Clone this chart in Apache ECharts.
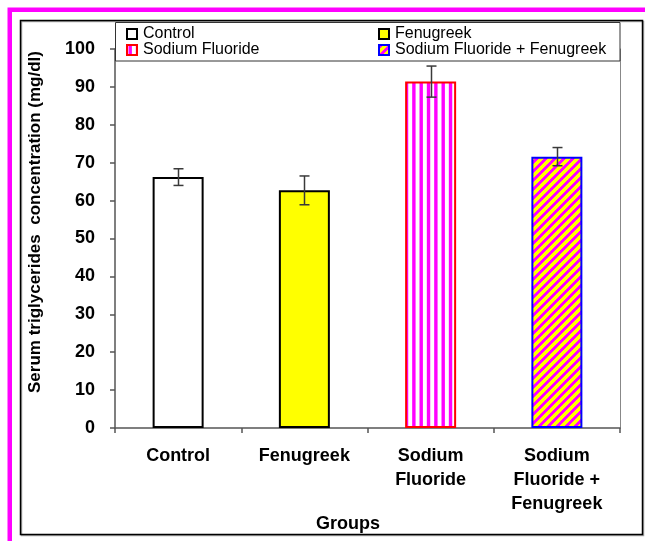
<!DOCTYPE html>
<html>
<head>
<meta charset="utf-8">
<script src="https://cdn.jsdelivr.net/npm/echarts@6/dist/echarts.min.js"></script>
<style>
html,body{margin:0;padding:0;background:#fff;}
#chart{width:645px;height:541px;}
</style>
</head>
<body>
<div id="chart"></div>
<script>
// ---- data ----
var categories = ['Control', 'Fenugreek', 'Sodium\nFluoride', 'Sodium\nFluoride +\nFenugreek'];
var seriesNames = ['Control', 'Fenugreek', 'Sodium Fluoride', 'Sodium Fluoride + Fenugreek'];
var means = [66.2, 62.7, 91.4, 71.6];
var errors = [2.2, 3.8, 4.1, 2.4];
var yTicks = [0, 10, 20, 30, 40, 50, 60, 70, 80, 90, 100];
var xTitle = 'Groups';
var yTitle = 'Serum triglycerides  concentration (mg/dl)';

// ---- patterns ----
function vStripes() {
  var c = document.createElement('canvas');
  c.width = 22; c.height = 4;
  var g = c.getContext('2d');
  g.fillStyle = '#ffffff'; g.fillRect(0, 0, 22, 4);
  g.fillStyle = '#ff00ff';
  [1.5, 8.83, 16.17].forEach(function (x) { g.fillRect(x, 0, 3.4, 4); });
  return c;
}
function dStripes() {
  var p = 9, c = document.createElement('canvas');
  c.width = p; c.height = p;
  var g = c.getContext('2d');
  var img = g.createImageData(p, p);
  for (var y = 0; y < p; y++) for (var x = 0; x < p; x++) {
    var i = (y * p + x) * 4, r = (x + y) % p, m = r < 4;
    img.data[i] = 255; img.data[i + 1] = m ? 0 : 255; img.data[i + 2] = m ? 255 : 0; img.data[i + 3] = 255;
  }
  g.putImageData(img, 0, 0);
  return c;
}
var fills = ['#ffffff', '#ffff00', { image: vStripes(), repeat: 'repeat' }, { image: dStripes(), repeat: 'repeat' }];
var borders = ['#000000', '#000000', '#ff0000', '#0000ff'];

var font = '"Liberation Sans", Arial, sans-serif';

var series = seriesNames.map(function (name, k) {
  return {
    name: name,
    type: 'bar',
    barWidth: 51,
    barGap: '-100%',
    data: categories.map(function (c, i) { return i === k ? means[i] : null; }),
    itemStyle: { color: fills[k], borderColor: borders[k], borderWidth: 2 },
    emphasis: { disabled: true },
    z: 2
  };
});

series.push({
  type: 'custom',
  name: 'err',
  data: means.map(function (m, i) { return [i, m - errors[i], m + errors[i]]; }),
  renderItem: function (params, api) {
    var lo = api.coord([api.value(0), api.value(1)]);
    var hi = api.coord([api.value(0), api.value(2)]);
    var x = Math.round(lo[0]) + 0.5, w = 5;
    var st = { stroke: '#3a3a3a', lineWidth: 1.5 };
    return {
      type: 'group',
      children: [
        { type: 'line', shape: { x1: x, y1: lo[1], x2: x, y2: hi[1] }, style: st },
        { type: 'line', shape: { x1: x - w, y1: lo[1], x2: x + w, y2: lo[1] }, style: st },
        { type: 'line', shape: { x1: x - w, y1: hi[1], x2: x + w, y2: hi[1] }, style: st }
      ]
    };
  },
  z: 5
});

var legendPos = [[126, 26], [378, 26], [126, 42], [378, 42]];
var legends = seriesNames.map(function (n, k) {
  return {
    data: [n],
    left: legendPos[k][0], top: legendPos[k][1],
    padding: 0, itemWidth: 10, itemHeight: 10, itemGap: 0,
    selectedMode: false, icon: 'rect',
    textStyle: { fontFamily: font, fontSize: 16, color: '#000', padding: [0, 0, 0, 1] },
    z: 10
  };
});

var chart = echarts.init(document.getElementById('chart'), null, { renderer: 'canvas' });
chart.setOption({
  animation: false,
  backgroundColor: '#ffffff',
  grid: { left: 115, right: 25, top: 49, bottom: 113, containLabel: false },
  legend: legends,
  xAxis: {
    type: 'category',
    data: categories,
    axisLine: { lineStyle: { color: '#555', width: 1.5 } },
    axisTick: { show: true, alignWithLabel: false, length: 5, lineStyle: { color: '#555', width: 1.5 } },
    axisLabel: { fontFamily: font, fontSize: 18, fontWeight: 'bold', color: '#000', lineHeight: 24, margin: 16, interval: 0 },
    splitLine: { show: false }
  },
  yAxis: [{
    type: 'value', min: 0, max: 100, interval: 10,
    axisLine: { show: true, lineStyle: { color: '#555', width: 1.5 } },
    axisTick: { show: true, length: 5, lineStyle: { color: '#555', width: 1.5 } },
    axisLabel: { fontFamily: font, fontSize: 18, fontWeight: 'bold', color: '#000', margin: 20,
      formatter: function (v) { return yTicks.indexOf(v) >= 0 ? String(v) : ''; } },
    splitLine: { show: false }
  }, {
    type: 'value', min: 0, max: 100, interval: 10, position: 'right',
    axisLine: { show: true, lineStyle: { color: '#888', width: 1 } },
    axisTick: { show: false }, axisLabel: { show: false }, splitLine: { show: false }
  }],
  graphic: [
    { type: 'rect', shape: { x: 9.75, y: 9.75, width: 660, height: 560 }, style: { fill: null, stroke: '#ff00ff', lineWidth: 4.5 }, z: 0, silent: true },
    { type: 'rect', shape: { x: 20.5, y: 20.5, width: 622, height: 514 }, style: { fill: null, stroke: '#000', lineWidth: 1.5, shadowColor: 'rgba(0,0,0,0.35)', shadowOffsetX: 1, shadowOffsetY: 1, shadowBlur: 0 }, z: 0, silent: true },
    { type: 'rect', shape: { x: 115.5, y: 22.5, width: 504.5, height: 38.5 }, style: { fill: '#fff', stroke: '#333', lineWidth: 1 }, z: 8, silent: true },
    { type: 'text', x: 348, y: 524, style: { text: xTitle, font: 'bold 18px ' + font, fill: '#000', textAlign: 'center', textVerticalAlign: 'middle' }, z: 10, silent: true },
    { type: 'text', x: 35, y: 222, rotation: Math.PI / 2, style: { text: yTitle, font: 'bold 17px ' + font, fill: '#000', textAlign: 'center', textVerticalAlign: 'middle' }, z: 10, silent: true }
  ],
  series: series
});
</script>
</body>
</html>
